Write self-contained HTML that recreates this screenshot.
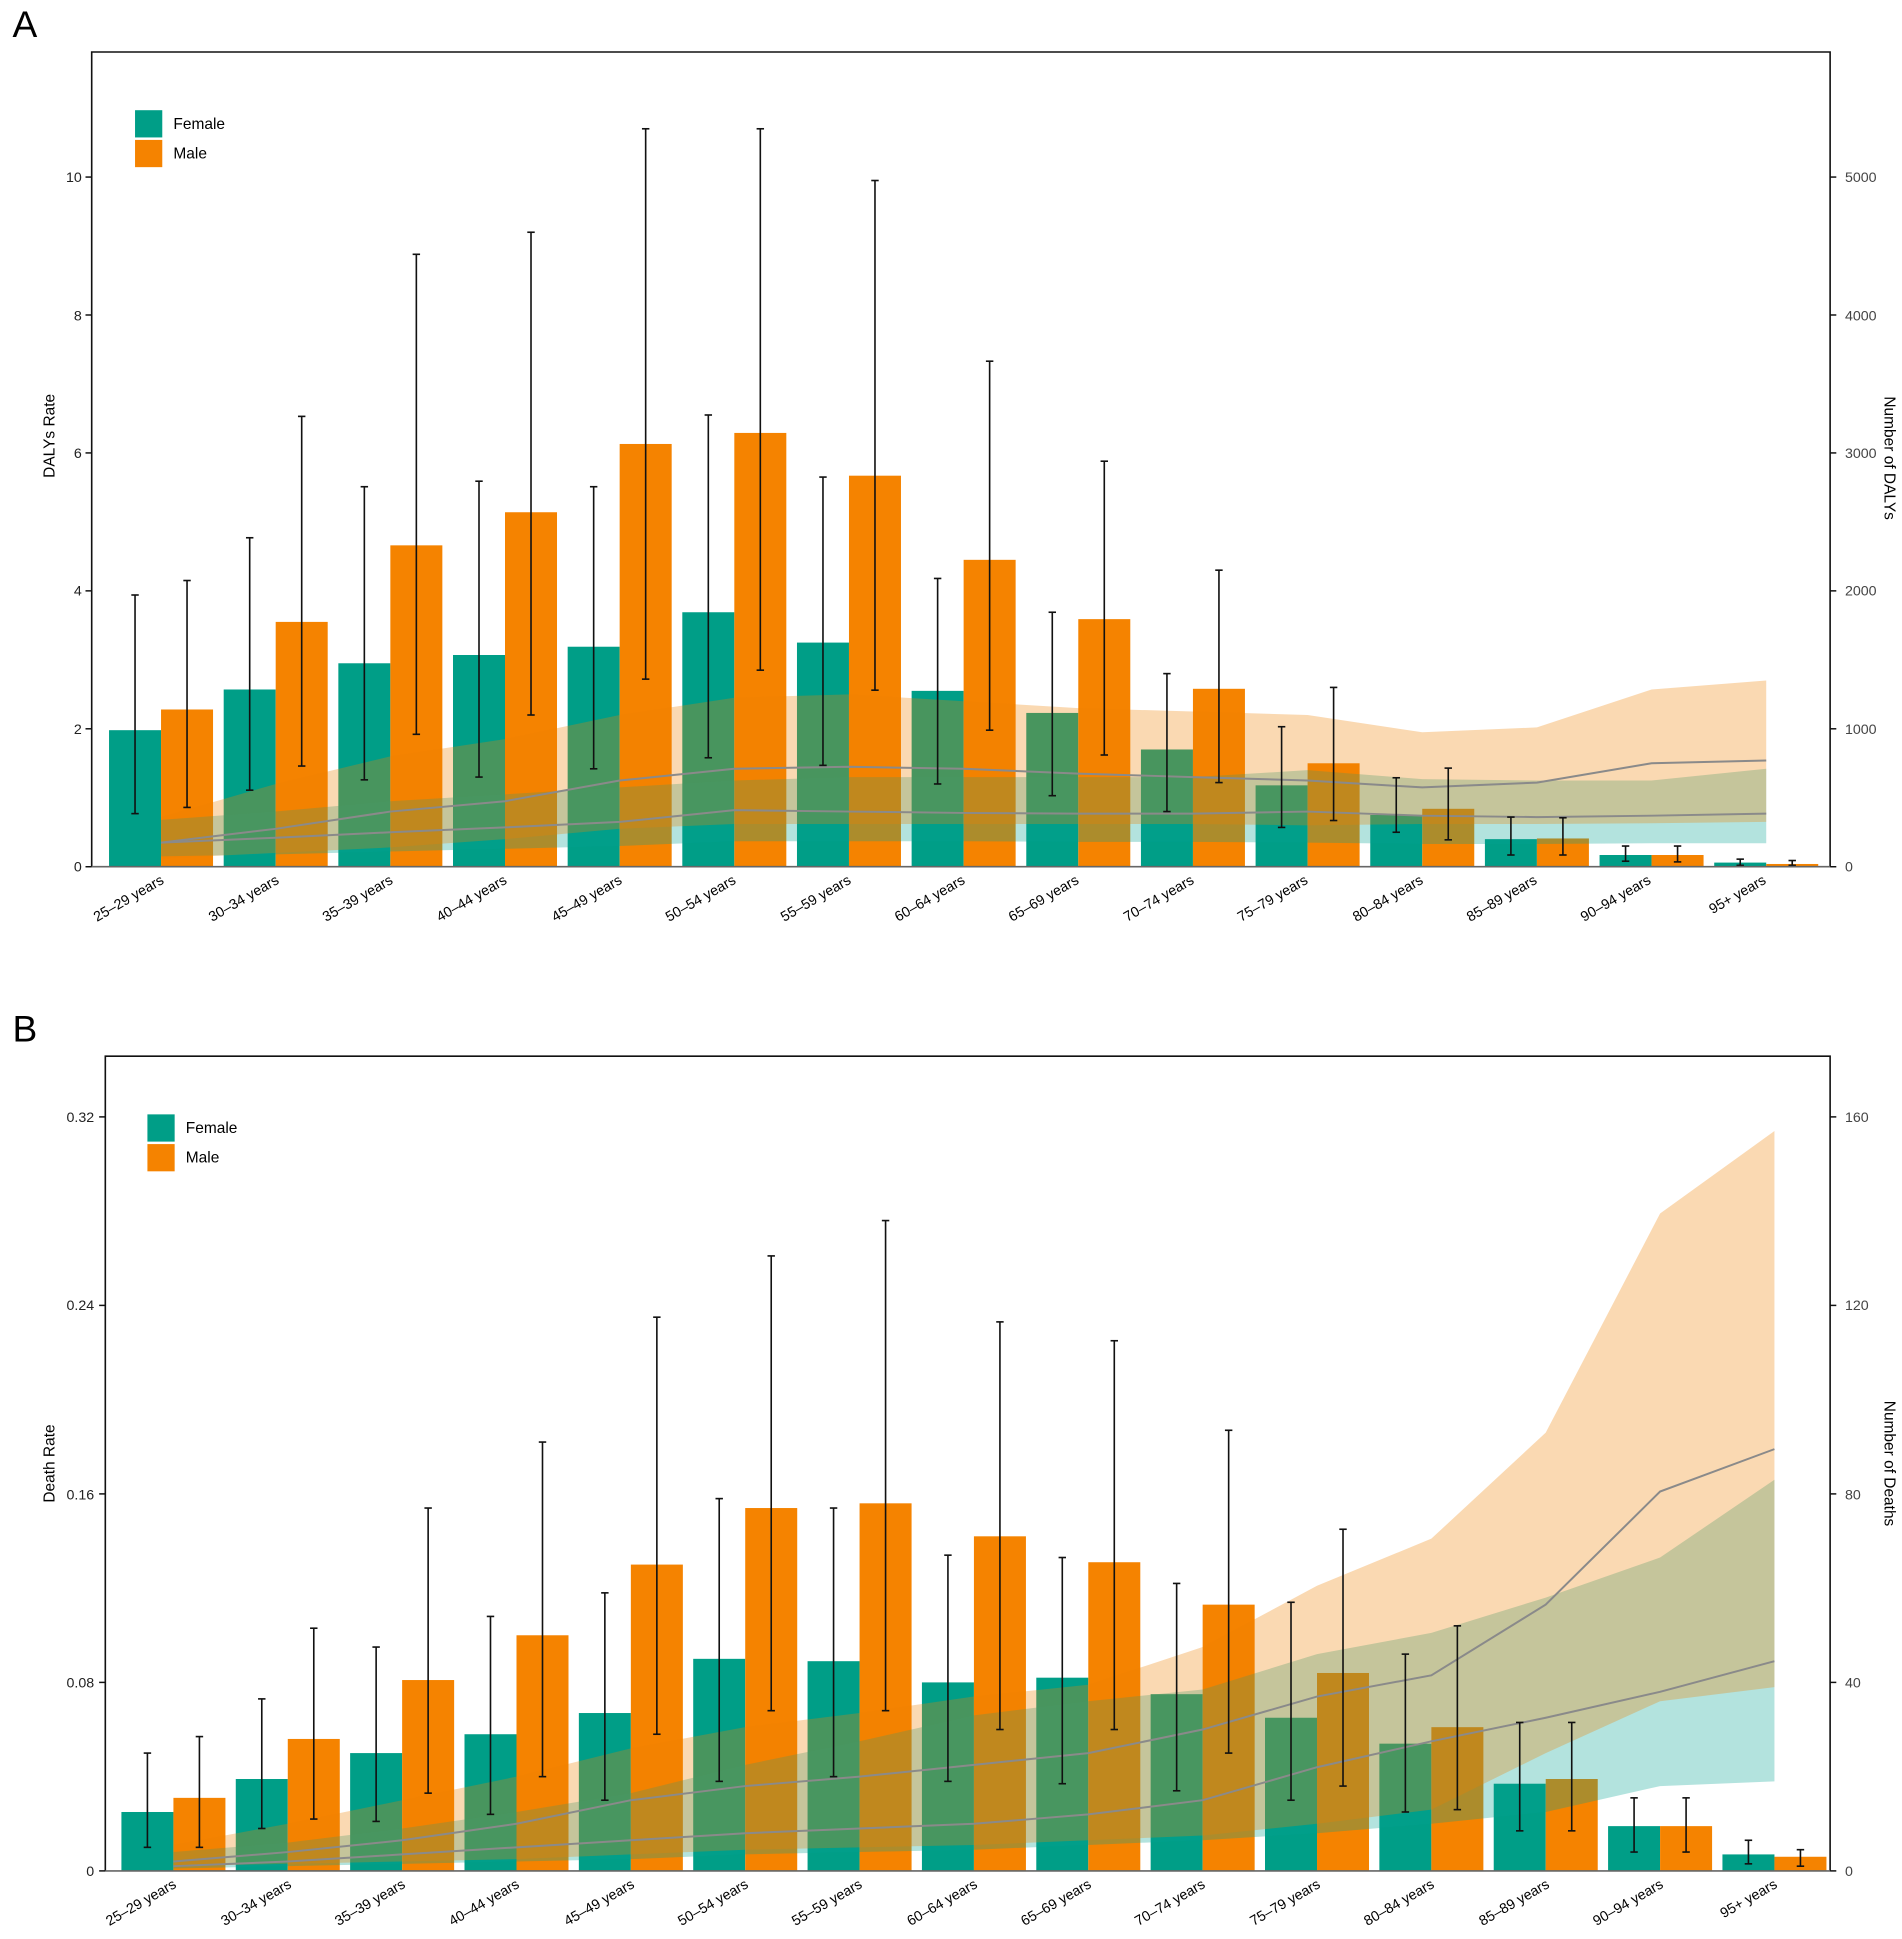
<!DOCTYPE html>
<html><head><meta charset="utf-8"><style>
html,body{margin:0;padding:0;background:#fff;}
svg{display:block;font-family:"Liberation Sans",Arial,sans-serif;}
</style></head><body>
<svg id="s" width="1902" height="1939" viewBox="0 0 1536 1566" xmlns="http://www.w3.org/2000/svg">
<rect width="1536" height="1566" fill="#fff"/>
<g id="A"></g><g id="B"></g>
<text x="10" y="30" font-size="30">A</text>
<text x="10" y="841" font-size="30">B</text>
<g font-size="11.5" fill="#222" text-anchor="end">
<text x="66" y="704">0</text><text x="66" y="593">2</text><text x="66" y="481">4</text><text x="66" y="370">6</text><text x="66" y="259">8</text><text x="66" y="147">10</text>
</g>
<g font-size="11.5" fill="#444">
<text x="1490" y="704">0</text><text x="1490" y="593">1000</text><text x="1490" y="481">2000</text><text x="1490" y="370">3000</text><text x="1490" y="259">4000</text><text x="1490" y="147">5000</text>
</g>
<text font-size="12.5" transform="translate(44,352) rotate(-90)" text-anchor="middle">DALYs Rate</text>
<text font-size="12.5" transform="translate(1522,370) rotate(90)" text-anchor="middle">Number of DALYs</text>
<rect x="109" y="89" width="22" height="22" fill="#009E87"/><rect x="109" y="113" width="22" height="22" fill="#F58300"/>
<text x="140" y="104" font-size="12.5">Female</text><text x="140" y="128" font-size="12.5">Male</text>
<g font-size="11.5" text-anchor="end">
<text transform="translate(133,713) rotate(-30)">25–29 years</text>
<text transform="translate(226,713) rotate(-30)">30–34 years</text>
<text transform="translate(318,713) rotate(-30)">35–39 years</text>
<text transform="translate(410,713) rotate(-30)">40–44 years</text>
<text transform="translate(503,713) rotate(-30)">45–49 years</text>
<text transform="translate(595,713) rotate(-30)">50–54 years</text>
<text transform="translate(688,713) rotate(-30)">55–59 years</text>
<text transform="translate(780,713) rotate(-30)">60–64 years</text>
<text transform="translate(872,713) rotate(-30)">65–69 years</text>
<text transform="translate(965,713) rotate(-30)">70–74 years</text>
<text transform="translate(1057,713) rotate(-30)">75–79 years</text>
<text transform="translate(1150,713) rotate(-30)">80–84 years</text>
<text transform="translate(1242,713) rotate(-30)">85–89 years</text>
<text transform="translate(1334,713) rotate(-30)">90–94 years</text>
<text transform="translate(1427,713) rotate(-30)">95+ years</text>
</g>
<g font-size="11.5" fill="#222" text-anchor="end">
<text x="76" y="1515">0</text><text x="76" y="1363">0.08</text><text x="76" y="1211">0.16</text><text x="76" y="1058">0.24</text><text x="76" y="906">0.32</text>
</g>
<g font-size="11.5" fill="#444">
<text x="1490" y="1515">0</text><text x="1490" y="1363">40</text><text x="1490" y="1211">80</text><text x="1490" y="1058">120</text><text x="1490" y="906">160</text>
</g>
<text font-size="12.5" transform="translate(44,1182) rotate(-90)" text-anchor="middle">Death Rate</text>
<text font-size="12.5" transform="translate(1522,1182) rotate(90)" text-anchor="middle">Number of Deaths</text>
<rect x="119" y="900" width="22" height="22" fill="#009E87"/><rect x="119" y="924" width="22" height="22" fill="#F58300"/>
<text x="150" y="915" font-size="12.5">Female</text><text x="150" y="939" font-size="12.5">Male</text>
<g font-size="11.5" text-anchor="end">
<text transform="translate(143,1524) rotate(-30)">25–29 years</text>
<text transform="translate(236,1524) rotate(-30)">30–34 years</text>
<text transform="translate(328,1524) rotate(-30)">35–39 years</text>
<text transform="translate(420,1524) rotate(-30)">40–44 years</text>
<text transform="translate(513,1524) rotate(-30)">45–49 years</text>
<text transform="translate(605,1524) rotate(-30)">50–54 years</text>
<text transform="translate(697,1524) rotate(-30)">55–59 years</text>
<text transform="translate(790,1524) rotate(-30)">60–64 years</text>
<text transform="translate(882,1524) rotate(-30)">65–69 years</text>
<text transform="translate(974,1524) rotate(-30)">70–74 years</text>
<text transform="translate(1067,1524) rotate(-30)">75–79 years</text>
<text transform="translate(1159,1524) rotate(-30)">80–84 years</text>
<text transform="translate(1252,1524) rotate(-30)">85–89 years</text>
<text transform="translate(1344,1524) rotate(-30)">90–94 years</text>
<text transform="translate(1436,1524) rotate(-30)">95+ years</text>
</g>
</svg>
<script>
var NS="http://www.w3.org/2000/svg";
function el(g,t,a){var e=document.createElementNS(NS,t);for(var k in a)e.setAttribute(k,a[k]);g.appendChild(e);return e;}
function draw(gid,P){
 var g=document.getElementById(gid);
 function Y(v){return P.y0-v*P.k;}
 function C(i){return P.c0+P.sp*i;}
 for(var i=0;i<15;i++){
  el(g,'rect',{x:C(i)-42,y:Y(P.f[i]),width:42,height:P.y0-Y(P.f[i]),fill:'#009E87'});
  el(g,'rect',{x:C(i),y:Y(P.m[i]),width:42,height:P.y0-Y(P.m[i]),fill:'#F58300'});
 }
 function band(lo,hi,fill){
  var d='M';for(var i=0;i<15;i++)d+=C(i)+','+Y(hi[i])+' L';
  for(var i=14;i>=0;i--)d+=C(i)+','+Y(lo[i])+(i?' L':' Z');
  el(g,'path',{d:d,fill:fill});
 }
 band(P.tlo,P.thi,'rgba(2,162,145,0.3)');
 band(P.olo,P.ohi,'rgba(240,128,0,0.3)');
 function line(v){var d='M';for(var i=0;i<15;i++)d+=C(i)+','+Y(v[i])+(i<14?' L':'');
  el(g,'path',{d:d,fill:'none',stroke:'#8a8a8a','stroke-width':1.6});}
 line(P.l1);line(P.l2);
 function eb(x,lo,hi){el(g,'line',{x1:x,x2:x,y1:Y(lo),y2:Y(hi),stroke:'#111','stroke-width':1.3});
  el(g,'line',{x1:x-3,x2:x+3,y1:Y(lo),y2:Y(lo),stroke:'#111','stroke-width':1.3});
  el(g,'line',{x1:x-3,x2:x+3,y1:Y(hi),y2:Y(hi),stroke:'#111','stroke-width':1.3});}
 for(var i=0;i<15;i++){eb(C(i)-21,P.fe[i][0],P.fe[i][1]);eb(C(i)+21,P.me[i][0],P.me[i][1]);}
 el(g,'path',{d:'M'+P.L+','+P.y0+' V'+P.T+' H'+P.R+' V'+P.y0,fill:'none',stroke:'#111','stroke-width':1.3});
 el(g,'line',{x1:P.L,x2:P.R,y1:P.y0,y2:P.y0,stroke:'#666','stroke-width':1.3});
 for(var j=0;j<P.ticks.length;j++){var y=Y(P.ticks[j]);
  el(g,'line',{x1:P.L-5,x2:P.L,y1:y,y2:y,stroke:'#111','stroke-width':1.2});
  el(g,'line',{x1:P.R,x2:P.R+5,y1:y,y2:y,stroke:'#111','stroke-width':1.2});}
}
draw('A',{L:74,T:42,R:1478,y0:700,k:55.7,c0:130,sp:92.6,ticks:[0,2,4,6,8,10],
 f:[1.98,2.57,2.95,3.07,3.19,3.69,3.25,2.55,2.23,1.70,1.18,0.75,0.40,0.17,0.06],
 m:[2.28,3.55,4.66,5.14,6.13,6.29,5.67,4.45,3.59,2.58,1.50,0.84,0.41,0.17,0.04],
 fe:[[0.77,3.94],[1.11,4.77],[1.26,5.51],[1.3,5.59],[1.42,5.51],[1.58,6.55],[1.47,5.65],[1.2,4.18],[1.03,3.69],[0.8,2.8],[0.57,2.03],[0.5,1.29],[0.17,0.72],[0.08,0.3],[0.02,0.11]],
 me:[[0.86,4.15],[1.46,6.53],[1.92,8.88],[2.2,9.2],[2.72,10.7],[2.85,10.7],[2.56,9.95],[1.98,7.33],[1.62,5.88],[1.22,4.3],[0.67,2.6],[0.39,1.43],[0.17,0.71],[0.07,0.3],[0.02,0.09]],
 tlo:[0.15,0.18,0.22,0.26,0.3,0.37,0.37,0.37,0.36,0.36,0.35,0.33,0.33,0.34,0.34],
 thi:[0.68,0.8,0.95,1.05,1.15,1.25,1.3,1.3,1.3,1.3,1.4,1.27,1.25,1.25,1.42],
 olo:[0.12,0.2,0.28,0.4,0.55,0.62,0.62,0.62,0.62,0.62,0.6,0.62,0.62,0.63,0.65],
 ohi:[0.72,1.2,1.6,1.85,2.2,2.45,2.5,2.4,2.3,2.25,2.2,1.95,2.02,2.57,2.7],
 l1:[0.35,0.55,0.8,0.95,1.25,1.42,1.45,1.42,1.35,1.3,1.25,1.15,1.22,1.5,1.54],
 l2:[0.35,0.42,0.5,0.57,0.65,0.82,0.8,0.78,0.77,0.77,0.8,0.74,0.72,0.74,0.77]});
draw('B',{L:85,T:853,R:1478,y0:1511,k:1903,c0:140,sp:92.36,ticks:[0,0.08,0.16,0.24,0.32],
 f:[0.025,0.039,0.05,0.058,0.067,0.09,0.089,0.08,0.082,0.075,0.065,0.054,0.037,0.019,0.007],
 m:[0.031,0.056,0.081,0.1,0.13,0.154,0.156,0.142,0.131,0.113,0.084,0.061,0.039,0.019,0.006],
 fe:[[0.01,0.05],[0.018,0.073],[0.021,0.095],[0.024,0.108],[0.03,0.118],[0.038,0.158],[0.04,0.154],[0.038,0.134],[0.037,0.133],[0.034,0.122],[0.03,0.114],[0.025,0.092],[0.017,0.063],[0.008,0.031],[0.003,0.013]],
 me:[[0.01,0.057],[0.022,0.103],[0.033,0.154],[0.04,0.182],[0.058,0.235],[0.068,0.261],[0.068,0.276],[0.06,0.233],[0.06,0.225],[0.05,0.187],[0.036,0.145],[0.026,0.104],[0.017,0.063],[0.008,0.031],[0.002,0.009]],
 tlo:[0.001,0.002,0.003,0.004,0.005,0.007,0.008,0.009,0.011,0.013,0.016,0.02,0.025,0.036,0.038],
 thi:[0.008,0.012,0.018,0.025,0.033,0.045,0.055,0.066,0.072,0.077,0.092,0.101,0.116,0.133,0.166],
 olo:[0.002,0.003,0.004,0.005,0.007,0.009,0.01,0.011,0.013,0.015,0.02,0.026,0.05,0.072,0.078],
 ohi:[0.011,0.02,0.03,0.04,0.052,0.061,0.067,0.074,0.079,0.095,0.121,0.141,0.186,0.279,0.314],
 l1:[0.004,0.008,0.013,0.02,0.03,0.036,0.04,0.045,0.05,0.06,0.074,0.083,0.113,0.161,0.179],
 l2:[0.002,0.004,0.007,0.01,0.013,0.016,0.018,0.02,0.024,0.03,0.044,0.055,0.065,0.076,0.089]});
</script>
</body></html>
